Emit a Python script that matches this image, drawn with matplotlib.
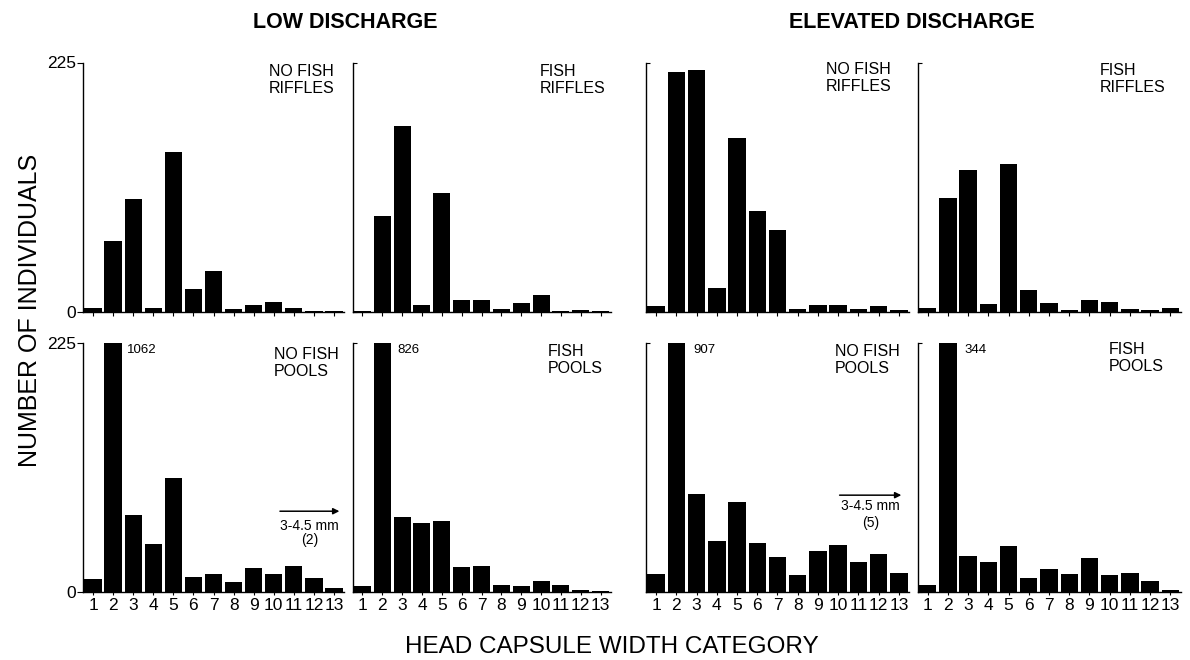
import matplotlib
matplotlib.use("Agg")
import matplotlib.pyplot as plt
import numpy as np

plt.rcParams['font.family'] = ['Liberation Sans', 'DejaVu Sans']

# ---------------- data ----------------
categories = list(range(1, 14))
y_max = 225

low_nofish_riffles = [3, 64, 102, 3.5, 144, 20, 37, 2.5, 6, 8.5, 3, 0.5, 0.5]
low_fish_riffles = [0.5, 86, 168, 6, 107, 10, 10, 2, 8, 14.5, 0.5, 1, 0.5]
elev_nofish_riffles = [5, 216, 218, 21, 157, 91, 74, 2.5, 6, 5.5, 2.5, 5, 1]
elev_fish_riffles = [3, 103, 128, 7, 133, 19, 8, 1, 10, 9, 2, 1, 3]

low_nofish_pools = [12, 1062, 70, 43, 103, 14, 16, 9, 21.5, 16, 23.5, 12.5, 4]
low_fish_pools = [5.5, 826, 68, 62.5, 64, 23, 23.5, 6, 5, 10, 6, 1.5, 0.5]
elev_nofish_pools = [16.5, 907, 88.5, 46, 81.5, 44, 32, 15.5, 37.5, 42.5, 27.5, 34.5, 17]
elev_fish_pools = [6, 344, 32.5, 27, 41.5, 12.5, 20.5, 16.5, 31, 15, 17, 9.5, 1.5]

panel_labels = [["NO FISH\nRIFFLES", "FISH\nRIFFLES", "NO FISH\nRIFFLES", "FISH\nRIFFLES"],
                ["NO FISH\nPOOLS", "FISH\nPOOLS", "NO FISH\nPOOLS", "FISH\nPOOLS"]]
series = [[low_nofish_riffles, low_fish_riffles, elev_nofish_riffles, elev_fish_riffles],
          [low_nofish_pools, low_fish_pools, elev_nofish_pools, elev_fish_pools]]
# individuals beyond the last category (3-4.5 mm), per panel (None = no note)
beyond_counts = [[None, None, None, None], [2, None, 5, None]]
beyond_text = "3-4.5 mm"

# ---------------- layout ----------------
W, H = 1190, 660
fig = plt.figure(figsize=(W / 100, H / 100), dpi=100)

col_left = [83, 352.5, 646, 917.5]
col_width = [261, 258, 263, 263]
row_base = [311.5, 592]       # pixel y of zero line
row_h = 249

label_left = [[269, 540, 826, 1100], [274, 548, 835, 1109]]
label_top = [[64, 64, 62, 63], [347, 344, 344, 342]]
num_x = [2.68, 2.76, 2.83, 2.82]
arrow_spec = {  # (x0, x1, y_arrow, x_text, y_text1, y_text2)
    0: (10.31, 13.27, 73, 11.77, 59.5, 47),
    2: (10.07, 13.12, 87.5, 11.59, 77.3, 62),
}

for r in range(2):
    for c in range(4):
        l = col_left[c] / W
        b = (H - row_base[r]) / H
        ax = fig.add_axes([l, b, col_width[c] / W, row_h / H])
        vals = np.array(series[r][c], dtype=float)
        ax.bar(categories, np.minimum(vals, y_max), width=0.86, color='black',
               edgecolor='none', zorder=2)
        ax.set_xlim(0.5, 13.5)
        ax.set_ylim(0, y_max)
        for s in ['top', 'right']:
            ax.spines[s].set_visible(False)
        for s in ['left', 'bottom']:
            ax.spines[s].set_linewidth(1.0)
        ax.set_xticks(categories)
        ax.set_yticks([0, y_max])
        if r == 1:
            ax.set_xticklabels([str(k) for k in categories], fontsize=12.5)
            ax.tick_params(axis='x', length=2, width=0.8, pad=2)
        else:
            ax.set_xticklabels([])
            ax.tick_params(axis='x', length=3, width=0.8)
        if c == 0:
            ax.set_yticklabels(['0', str(y_max)], fontsize=12.5)
            ax.tick_params(axis='y', length=4, width=0.8, pad=1)
        else:
            ax.set_yticklabels([])
            ax.tick_params(axis='y', direction='in', length=3, width=0.8)

        # clipped values
        for k, v in zip(categories, vals):
            if v > y_max:
                ax.text(num_x[c], y_max - 1, f"{int(v)}", fontsize=9.5,
                        ha='left', va='top')

        # panel labels
        fig.text(label_left[r][c] / W, 1 - label_top[r][c] / H, panel_labels[r][c],
                 fontsize=11.5, ha='left', va='top', linespacing=1.15)

        if beyond_counts[r][c] is not None:
            x0, x1, ya, xt, yt1, yt2 = arrow_spec[c]
            ax.annotate('', xy=(x1, ya), xytext=(x0, ya),
                        arrowprops=dict(arrowstyle='-|>', lw=1.1, color='black',
                                        mutation_scale=9, shrinkA=0, shrinkB=0))
            ax.text(xt, yt1, beyond_text, fontsize=10, ha='center', va='center')
            ax.text(xt, yt2, f"({beyond_counts[r][c]})", fontsize=10,
                    ha='center', va='center')

fig.text(253 / W, 1 - 22 / H, "LOW DISCHARGE", fontsize=15.5, fontweight='bold',
         ha='left', va='center')
fig.text(789 / W, 1 - 22 / H, "ELEVATED DISCHARGE", fontsize=15.5, fontweight='bold',
         ha='left', va='center')
fig.text(30 / W, 1 - 310 / H, "NUMBER OF INDIVIDUALS", fontsize=18, rotation=90,
         ha='center', va='center')
fig.text(405 / W, 1 - 647 / H, "HEAD CAPSULE WIDTH CATEGORY", fontsize=17.5,
         ha='left', va='center')

fig.savefig("out.png", dpi=100)
